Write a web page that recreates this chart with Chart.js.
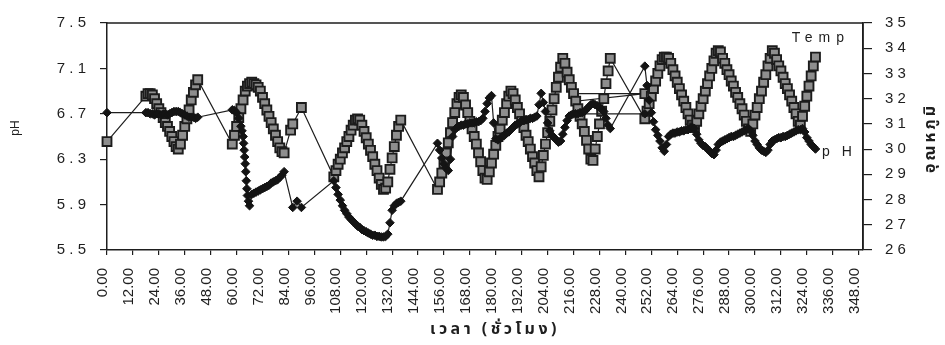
<!DOCTYPE html>
<html>
<head>
<meta charset="utf-8">
<script src="https://cdn.jsdelivr.net/npm/chart.js@4/dist/chart.umd.min.js"></script>
<style>
  html, body { margin: 0; padding: 0; background: #fff; }
  #wrap { width: 945px; height: 345px; }
</style>
</head>
<body>
<div id="wrap"><canvas id="c" width="945" height="345"></canvas></div>
<script>
// Sampling times (hours) and readings. A row logged as 249 h sits between 216 h and 217 h.
const tempHours = [
  0,
  18, 19, 20, 21, 22, 23, 24, 25, 26, 27, 28, 29, 30, 31, 32, 33, 34, 35, 36, 37, 38, 39, 40, 41, 42,
  58, 59, 60, 61, 62, 63, 64, 65, 66, 67, 68, 69, 70, 71, 72, 73, 74, 75, 76, 77, 78, 79, 80, 81, 82,
  85, 86, 90,
  105, 106, 107, 108, 109, 110, 111, 112, 113, 114, 115, 116, 117, 118, 119, 120,
  121, 122, 123, 124, 125, 126, 127, 128, 129, 130, 131, 132, 133, 134, 135, 136,
  153, 154, 155, 156, 157, 158, 159, 160, 161, 162, 163, 164, 165, 166, 167, 168,
  169, 170, 171, 172, 173, 174, 175, 176, 177, 178, 179, 180, 181, 182, 183, 184,
  185, 186, 187, 188, 189, 190, 191, 192, 193, 194, 195, 196, 197, 198, 199, 200,
  201, 202, 203, 204, 205, 206, 207, 208, 209, 210, 211, 212, 213, 214, 215, 216,
  249, 217, 218, 219, 220, 221, 222, 223, 224, 225, 226, 227, 228, 229, 230, 231, 232, 233,
  249, 250, 251, 252, 253, 254, 255, 256, 257, 258, 259, 260, 261, 262, 263, 264,
  265, 266, 267, 268, 269, 270, 271, 272, 273, 274, 275, 276, 277, 278, 279, 280,
  281, 282, 283, 284, 285, 286, 287, 288, 289, 290, 291, 292, 293, 294, 295, 296,
  297, 298, 299, 300, 301, 302, 303, 304, 305, 306, 307, 308, 309, 310, 311, 312,
  313, 314, 315, 316, 317, 318, 319, 320, 321, 322, 323, 324, 325, 326, 327, 328
];
const tempValues = [
  30.3,
  32.1, 32.2, 32.2, 32.15, 32.0, 31.8, 31.6, 31.45, 31.25, 31.05, 30.9, 30.7, 30.5, 30.3, 30.1, 30.0, 30.2, 30.55, 30.9, 31.2, 31.55, 31.95, 32.25, 32.55, 32.75,
  30.2, 30.55, 30.9, 31.25, 31.6, 31.95, 32.3, 32.5, 32.6, 32.65, 32.6, 32.55, 32.45, 32.3, 32.05, 31.8, 31.55, 31.3, 31.05, 30.8, 30.55, 30.3, 30.05, 29.9, 29.85,
  30.75, 31.0, 31.65,
  28.9, 29.15, 29.4, 29.6, 29.85, 30.05, 30.3, 30.5, 30.75, 30.95, 31.15, 31.2, 31.15, 30.95, 30.7, 30.45,
  30.2, 29.95, 29.7, 29.4, 29.15, 28.85, 28.6, 28.4, 28.45, 28.7, 29.2, 29.65, 30.1, 30.55, 30.9, 31.15,
  28.4, 28.7, 29.05, 29.45, 29.85, 30.25, 30.65, 31.05, 31.45, 31.8, 32.05, 32.15, 32.05, 31.75, 31.45, 31.1,
  30.8, 30.5, 30.2, 29.85, 29.5, 29.15, 28.85, 28.8, 29.1, 29.45, 29.8, 30.15, 30.5, 30.8, 31.15, 31.45,
  31.8, 32.1, 32.3, 32.2, 31.95, 31.65, 31.4, 31.1, 30.85, 30.55, 30.3, 30.0, 29.7, 29.45, 29.15, 28.9,
  29.3, 29.75, 30.2, 30.65, 31.1, 31.55, 32.0, 32.45, 32.85, 33.25, 33.6, 33.4, 33.05, 32.75, 32.45, 32.2,
  32.2, 31.9, 31.6, 31.3, 31.0, 30.7, 30.35, 30.0, 29.6, 29.55, 30.0, 30.5, 31.0, 31.5, 32.0, 32.6, 33.1, 33.6,
  31.2, 31.5, 31.8, 32.1, 32.4, 32.7, 33.0, 33.3, 33.55, 33.65, 33.65, 33.6, 33.4, 33.15, 32.9, 32.65,
  32.4, 32.15, 31.9, 31.65, 31.4, 31.15, 30.95, 30.85, 31.1, 31.4, 31.7, 32.0, 32.3, 32.6, 32.9, 33.2,
  33.5, 33.8, 33.9, 33.85, 33.6, 33.4, 33.15, 32.95, 32.7, 32.5, 32.25, 32.05, 31.8, 31.6, 31.35, 31.1,
  30.8, 30.7, 31.0, 31.35, 31.65, 32.0, 32.3, 32.65, 32.95, 33.3, 33.6, 33.9, 33.8, 33.55, 33.3, 33.1,
  32.85, 32.6, 32.4, 32.15, 31.9, 31.65, 31.4, 31.1, 30.95, 31.3, 31.7, 32.1, 32.5, 32.9, 33.3, 33.65
];

const phHours = [
  0,
  18, 19, 20, 21, 22, 23, 24, 25, 26, 27, 28, 29, 30, 31, 32, 33, 34, 35, 36, 37, 38, 39, 40, 41, 42,
  58, 59, 60, 61, 62, 62.5, 63, 63.25, 63.5, 63.75, 64, 64.25, 64.5, 64.75, 65, 65.5, 66,
  67, 68, 69, 70, 71, 72, 73, 74, 75, 76, 77, 78, 79, 80, 81, 82,
  86, 88, 90,
  105, 106, 107, 108, 109, 110, 111, 112, 113, 114, 115, 116, 117, 118, 119, 120,
  121, 122, 123, 124, 125, 126, 127, 128, 129, 130, 131, 132, 133, 134, 135, 136,
  153, 154, 155, 156, 157, 158, 159, 160, 161, 162, 163, 164, 165, 166, 167, 168,
  169, 170, 171, 172, 173, 174, 175, 176, 177, 178, 179, 180, 181, 182, 183, 184,
  185, 186, 187, 188, 189, 190, 191, 192, 193, 194, 195, 196, 197, 198, 199, 200,
  201, 202, 203, 204, 205, 206, 207, 208, 209, 210, 211, 212, 213, 214, 215, 216,
  249, 217, 218, 219, 220, 221, 222, 223, 224, 225, 226, 227, 228, 229, 230, 231, 232, 233,
  249, 250, 251, 252, 253, 254, 255, 256, 257, 258, 259, 260, 261, 262, 263, 264,
  265, 266, 267, 268, 269, 270, 271, 272, 273, 274, 275, 276, 277, 278, 279, 280,
  281, 282, 283, 284, 285, 286, 287, 288, 289, 290, 291, 292, 293, 294, 295, 296,
  297, 298, 299, 300, 301, 302, 303, 304, 305, 306, 307, 308, 309, 310, 311, 312,
  313, 314, 315, 316, 317, 318, 319, 320, 321, 322, 323, 324, 325, 326, 327, 328
];
const phValues = [
  6.71,
  6.71, 6.71, 6.70, 6.70, 6.69, 6.70, 6.70, 6.69, 6.70, 6.70, 6.69, 6.70, 6.71, 6.72, 6.72, 6.72, 6.71, 6.70, 6.69, 6.68, 6.67, 6.67, 6.67, 6.66, 6.67,
  6.735, 6.73, 6.71, 6.66, 6.59, 6.55, 6.50, 6.44, 6.38, 6.32, 6.26, 6.19, 6.11, 6.04, 5.98, 5.93, 5.89,
  5.99, 6.00, 6.01, 6.02, 6.03, 6.04, 6.05, 6.06, 6.07, 6.09, 6.10, 6.11, 6.12, 6.14, 6.16, 6.19,
  5.875, 5.93, 5.875,
  6.11, 6.05, 5.99, 5.94, 5.89, 5.85, 5.82, 5.79, 5.77, 5.75, 5.73, 5.71, 5.70, 5.68, 5.67, 5.66,
  5.65, 5.64, 5.63, 5.63, 5.62, 5.62, 5.615, 5.615, 5.62, 5.64, 5.74, 5.85, 5.89, 5.91, 5.92, 5.93,
  6.44, 6.38, 6.31, 6.26, 6.22, 6.20, 6.30, 6.50, 6.56, 6.58, 6.59, 6.60, 6.60, 6.61, 6.61, 6.62,
  6.62, 6.62, 6.63, 6.63, 6.64, 6.66, 6.72, 6.79, 6.84, 6.86, 6.62, 6.48, 6.47, 6.48, 6.50, 6.51,
  6.53, 6.54, 6.56, 6.58, 6.60, 6.61, 6.62, 6.64, 6.64, 6.65, 6.65, 6.66, 6.66, 6.67, 6.68, 6.78,
  6.88, 6.80, 6.72, 6.62, 6.55, 6.51, 6.49, 6.47, 6.45, 6.46, 6.52, 6.58, 6.64, 6.68, 6.69, 6.70,
  6.70, 6.70, 6.70, 6.71, 6.71, 6.72, 6.74, 6.76, 6.78, 6.79, 6.78, 6.77, 6.76, 6.74, 6.72, 6.66, 6.60, 6.57,
  7.12, 6.95, 6.82, 6.71, 6.63, 6.56, 6.51, 6.46, 6.40, 6.37, 6.43, 6.50, 6.52, 6.53, 6.53, 6.54,
  6.54, 6.55, 6.55, 6.56, 6.56, 6.57, 6.58, 6.57, 6.52, 6.47, 6.44, 6.42, 6.41, 6.39, 6.37, 6.35,
  6.34, 6.38, 6.43, 6.45, 6.46, 6.47, 6.48, 6.49, 6.50, 6.50, 6.51, 6.52, 6.53, 6.54, 6.55, 6.56,
  6.57, 6.55, 6.51, 6.46, 6.43, 6.40, 6.38, 6.37, 6.36, 6.38, 6.43, 6.46, 6.47, 6.48, 6.49, 6.49,
  6.50, 6.50, 6.51, 6.52, 6.53, 6.54, 6.55, 6.56, 6.56, 6.57, 6.54, 6.49, 6.46, 6.43, 6.41, 6.39
];

// Axis settings
const hourMin = 0, hourMax = 350, hourStep = 12;
const phMin = 5.5, phMax = 7.5, phStep = 0.4;
const tempMin = 26, tempMax = 35, tempStep = 1;

const axisTitleX = 'เวลา (ชั่วโมง)';
const axisTitlePH = 'pH';
const axisTitleTemp = 'อุณหภูมิ';
const seriesNames = ['pH', 'Temp'];

const INK = '#1e1e1e';
const SANS = "'Liberation Sans', Arial, sans-serif";
const THAI = "'Noto Sans Thai', 'Noto Sans Thai UI', Loma, Garuda, Norasi, 'Tlwg Typo', 'Noto Sans', sans-serif";

const spaced = s => s.split('').join(' ');
const toPoints = (xs, ys) => xs.map((x, i) => ({ x: x, y: ys[i] }));

// Frame, axis titles and in-plot series labels
const decorations = {
  id: 'decorations',
  afterDraw(chart) {
    const { ctx, chartArea: a, scales } = chart;
    ctx.save();
    ctx.strokeStyle = INK;
    ctx.lineWidth = 1.5;
    ctx.beginPath();
    ctx.moveTo(a.left, a.top);
    ctx.lineTo(a.right, a.top);
    ctx.lineTo(a.right, a.bottom);
    ctx.stroke();

    ctx.fillStyle = INK;
    ctx.textBaseline = 'middle';

    // bottom title
    ctx.textAlign = 'center';
    ctx.font = "bold 16px " + THAI;
    ctx.letterSpacing = '3.5px';
    ctx.fillText(axisTitleX, 495, 331);

    // left title
    ctx.save();
    ctx.translate(16, 128);
    ctx.rotate(-Math.PI / 2);
    ctx.letterSpacing = '0px';
    ctx.font = "12px " + SANS;
    ctx.fillText(axisTitlePH, 0, 0);
    ctx.restore();

    // right title, reading bottom to top
    ctx.save();
    ctx.translate(932, 138);
    ctx.rotate(-Math.PI / 2);
    ctx.letterSpacing = '3px';
    ctx.font = "bold 16px " + THAI;
    ctx.fillText(axisTitleTemp, 0, 0);
    ctx.restore();

    // series labels at the right end of the curves
    ctx.textAlign = 'left';
    ctx.font = "14px " + SANS;
    ctx.letterSpacing = '6px';
    ctx.fillText(seriesNames[1], scales.x.getPixelForValue(317), scales.yTemp.getPixelForValue(34.4));
    ctx.letterSpacing = '12px';
    ctx.fillText(seriesNames[0], scales.x.getPixelForValue(331), scales.yPH.getPixelForValue(6.36));
    ctx.restore();
  }
};

new Chart(document.getElementById('c'), {
  type: 'line',
  data: {
    datasets: [
      {
        label: seriesNames[0],
        data: toPoints(phHours, phValues),
        yAxisID: 'yPH',
        borderColor: INK,
        borderWidth: 1.2,
        pointStyle: 'rectRot',
        pointRadius: 4.3,
        pointBackgroundColor: '#141414',
        pointBorderColor: '#141414',
        pointBorderWidth: 1,
        tension: 0,
        clip: false
      },
      {
        label: seriesNames[1],
        data: toPoints(tempHours, tempValues),
        yAxisID: 'yTemp',
        borderColor: INK,
        borderWidth: 1.2,
        pointStyle: 'rect',
        pointRadius: 6.3,
        pointBackgroundColor: '#8e8e8e',
        pointBorderColor: '#1c1c1c',
        pointBorderWidth: 1.9,
        tension: 0,
        clip: false
      }
    ]
  },
  options: {
    responsive: false,
    animation: false,
    events: [],
    layout: { padding: { top: 19, left: 0, right: 0, bottom: 0 } },
    plugins: { legend: { display: false }, tooltip: { enabled: false } },
    scales: {
      x: {
        type: 'linear',
        position: 'bottom',
        min: hourMin,
        max: hourMax,
        afterBuildTicks: s => { s.ticks = s.ticks.filter(t => t.value % hourStep === 0); },
        afterFit: s => { s.height = 95; },
        ticks: {
          stepSize: hourStep,
          includeBounds: false,
          autoSkip: false,
          minRotation: 90,
          maxRotation: 90,
          padding: 13,
          labelOffset: -4,
          color: INK,
          font: { family: SANS, size: 15 },
          callback: v => Number(v).toFixed(2)
        },
        grid: { drawOnChartArea: false, drawTicks: true, tickLength: 5, color: INK, lineWidth: 1.2 },
        border: { display: true, color: INK, width: 1.5 }
      },
      yPH: {
        type: 'linear',
        position: 'left',
        min: phMin,
        max: phMax,
        afterFit: s => { s.width = 107; },
        ticks: {
          stepSize: phStep,
          padding: 14,
          color: INK,
          font: { family: SANS, size: 15 },
          callback: v => spaced(Number(v).toFixed(1))
        },
        grid: { drawOnChartArea: false, drawTicks: true, tickLength: 7, color: INK, lineWidth: 1.2 },
        border: { display: true, color: INK, width: 1.5 }
      },
      yTemp: {
        type: 'linear',
        position: 'right',
        min: tempMin,
        max: tempMax,
        afterFit: s => { s.width = 82; },
        ticks: {
          stepSize: tempStep,
          padding: 13,
          color: INK,
          font: { family: SANS, size: 15 },
          callback: v => spaced(String(Math.round(v)))
        },
        grid: { drawOnChartArea: false, drawTicks: true, tickLength: 9, color: INK, lineWidth: 1.2 },
        border: { display: true, color: INK, width: 1.5 }
      }
    }
  },
  plugins: [decorations]
});
</script>
</body>
</html>
